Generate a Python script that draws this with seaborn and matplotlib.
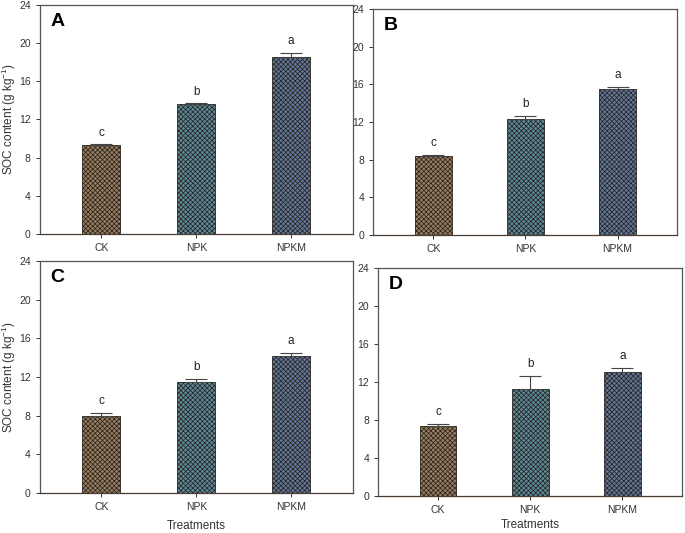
import numpy as np
import pandas as pd
import matplotlib
matplotlib.use("Agg")
import matplotlib.pyplot as plt
import seaborn as sns

# data
treatments = ["CK", "NPK", "NPKM"]
panels = ["A", "B", "C", "D"]
soc_A = [9.3, 13.6, 18.5]
err_A = [0.08, 0.08, 0.45]
soc_B = [8.4, 12.3, 15.47]
err_B = [0.15, 0.35, 0.25]
soc_C = [8.0, 11.5, 14.2]
err_C = [0.3, 0.35, 0.28]
soc_D = [7.35, 11.3, 13.1]
err_D = [0.3, 1.4, 0.4]
letters = ["c", "b", "a"]
yticks = [0, 4, 8, 12, 16, 20, 24]

bar_colors = ["#a37e55", "#4f90a8", "#5676a6"]

sns.set_style("ticks")
plt.rcParams["font.family"] = ["Liberation Sans", "DejaVu Sans"]
plt.rcParams["mathtext.default"] = "regular"
plt.rcParams["hatch.linewidth"] = 0.55

fig = plt.figure(figsize=(6.85, 5.33), dpi=100)
boxes = {
    "A": [0.058, 0.561, 0.457, 0.430],
    "B": [0.545, 0.559, 0.444, 0.424],
    "C": [0.058, 0.075, 0.457, 0.435],
    "D": [0.552, 0.069, 0.444, 0.428],
}
values = {"A": (soc_A, err_A), "B": (soc_B, err_B),
          "C": (soc_C, err_C), "D": (soc_D, err_D)}
xlabel_y = {"C": -0.118, "D": -0.1}

for name in panels:
    ax = fig.add_axes(boxes[name])
    soc, err = values[name]
    df = pd.DataFrame({"Treatment": treatments, "SOC": soc})
    sns.barplot(data=df, x="Treatment", y="SOC", hue="Treatment",
                palette=bar_colors, width=0.4, errorbar=None,
                legend=False, ax=ax, edgecolor="#2a2520", linewidth=0.6)
    for p in ax.patches:
        p.set_hatch("xxxxxxx")

    # upper error bars only
    x = np.arange(len(treatments))
    ax.errorbar(x, soc, yerr=[np.zeros(len(err)), err], fmt="none",
                ecolor="#444444", elinewidth=0.8, capsize=8, capthick=0.8)

    for xi, v, e, lab in zip(x, soc, err, letters):
        ax.text(xi, v + e + 0.6, lab, ha="center", va="bottom",
                fontsize=8.5, color="#222222")

    ax.set_xlim(-0.65, 2.65)
    ax.set_ylim(0, 24)
    ax.set_yticks(yticks)
    ax.tick_params(axis="both", labelsize=7.5, length=3, width=0.7,
                   colors="#333333", direction="out")
    for s in ax.spines.values():
        s.set_visible(True)
        s.set_color("#555555")
        s.set_linewidth(0.9)
    ax.spines["bottom"].set_color("#4a3c30")

    ax.text(0.035, 0.965, name, transform=ax.transAxes, ha="left", va="top",
            fontsize=14, fontweight="bold", color="black")

    if name in ("A", "C"):
        ax.set_ylabel("SOC content (g kg$^{-1}$)", fontsize=8.5, color="#333333")
        ax.yaxis.set_label_coords(-0.068, 0.5)
    else:
        ax.set_ylabel("")
    if name in ("C", "D"):
        ax.set_xlabel("Treatments", fontsize=8.5, color="#333333", va="top")
        ax.xaxis.set_label_coords(0.5, xlabel_y[name])
    else:
        ax.set_xlabel("")

fig.savefig("out.png", dpi=100)
